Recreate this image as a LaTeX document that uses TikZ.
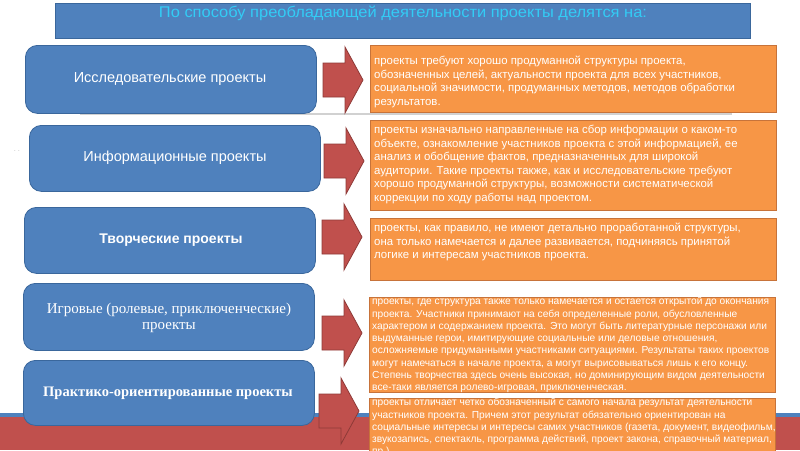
\documentclass[tikz,border=0pt]{standalone}
\usepackage{fontspec}
\setmainfont{Liberation Sans}
\newfontfamily\serifrm{Liberation Serif}
\usepackage{graphicx}
\definecolor{bluebox}{HTML}{4F81BD}
\definecolor{blueedge}{HTML}{3A679C}
\definecolor{orangebox}{HTML}{F79646}
\definecolor{orangeedge}{HTML}{C7733A}
\definecolor{redarrow}{HTML}{C0504D}
\definecolor{rededge}{HTML}{8E3A37}
\definecolor{titlecyan}{HTML}{33CCF5}
\tikzset{
  titlebox/.style={draw=blueedge, fill=bluebox, line width=0.8pt, minimum width=695pt, minimum height=35pt, anchor=north west, inner sep=0pt},
  bluebtn/.style={draw=blueedge, fill=bluebox, line width=0.8pt, rounded corners=12pt, minimum width=291pt, minimum height=66pt, anchor=north west, inner sep=0pt},
  btntext/.style={text=white, align=center, inner sep=0pt},
  obox/.style={draw=orangeedge, fill=orangebox, line width=0.8pt, minimum width=406pt, anchor=north west, inner sep=0pt},
  otext/.style={text=white, align=left, anchor=north west, inner sep=0pt, font=\fontsize{11.4}{13.5}\selectfont},
  osmall/.style={text=white, align=left, anchor=north west, inner sep=0pt, font=\fontsize{10.2}{12.3}\selectfont},
  arrowfill/.style={draw=rededge, fill=redarrow, line width=0.8pt, line join=miter},
  barrow/.pic={\path[arrowfill] (0,-17) -- (22,-17) -- (22,-33) -- (40,0) -- (22,33) -- (22,17) -- (0,17) -- cycle;}
}
\begin{document}
\begin{tikzpicture}[x=1pt,y=-1pt]
\useasboundingbox (0,0) rectangle (800,450);
\clip (0,0) rectangle (800,450);
% background band
\fill[redarrow] (0,416) rectangle (800,450);
\fill[bluebox] (0,413) rectangle (800,416.5);
% shadow line
\draw[black!18, line width=1.5pt] (80,114) -- (732,114);
% title
\node[titlebox] (title) at (55,3) {};
\node[text=titlecyan, inner sep=0pt] (titletext) at (403,13) {\resizebox{488pt}{\height}{\fontsize{15.5}{16}\selectfont По способу преобладающей деятельности проекты делятся на:}};
% small dots
\node[text=black!40, inner sep=0pt, font=\fontsize{6}{6}\selectfont] (dots) at (17,151) {. .};
% blue buttons
\node[bluebtn, minimum height=68pt] (b1) at (25,45) {};
\node[bluebtn] (b2) at (29,125) {};
\node[bluebtn] (b3) at (24,207) {};
\node[bluebtn, minimum height=67pt] (b4) at (23,283) {};
\node[bluebtn, minimum height=65pt] (b5) at (23,360) {};
\node[btntext, font=\fontsize{14.5}{16}\selectfont] (l1) at (170,79) {Исследовательские проекты};
\node[btntext, font=\fontsize{14.5}{16}\selectfont] (l2) at (175,158) {Информационные проекты};
\node[btntext, font=\bfseries\fontsize{14}{16}\selectfont] (l3) at (171,240) {Творческие проекты};
\node[btntext, font=\serifrm\fontsize{15}{16.5}\selectfont] (l4) at (169,318) {Игровые (ролевые, приключенческие)\\проекты};
\node[btntext, font=\serifrm\bfseries\fontsize{14.5}{16}\selectfont] (l5) at (168,393) {Практико-ориентированные проекты};
% arrows
\pic at (323,80) {barrow};
\pic at (324,161) {barrow};
\pic at (322,237) {barrow};
\pic at (322,333) {barrow};
\pic at (319,411) {barrow};
% orange boxes
\node[obox, minimum height=67pt] (o1) at (370,45) {};
\node[obox, minimum height=90pt] (o2) at (370,120) {};
\node[obox, minimum height=62pt] (o3) at (370,218) {};
\node[obox, minimum height=95pt] (o4) at (369,297) {};
\node[obox, minimum height=70pt] (o5) at (369,398) {};
\node[otext] (t1) at (374,56) {проекты требуют хорошо продуманной структуры проекта,\\обозначенных целей, актуальности проекта для всех участников,\\социальной значимости, продуманных методов, методов обработки\\результатов.};
\node[otext] (t2) at (374,125) {проекты изначально направленные на сбор информации о каком-то\\объекте, ознакомление участников проекта с этой информацией, ее\\анализ и обобщение фактов, предназначенных для широкой\\аудитории. Такие проекты также, как и исследовательские требуют\\хорошо продуманной структуры, возможности систематической\\коррекции по ходу работы над проектом.};
\node[otext] (t3) at (374,223) {проекты, как правило, не имеют детально проработанной структуры,\\она только намечается и далее развивается, подчиняясь принятой\\логике и интересам участников проекта.};
\node[osmall] (t4) at (372,297) {проекты, где структура также только намечается и остается открытой до окончания\\проекта. Участники принимают на себя определенные роли, обусловленные\\характером и содержанием проекта. Это могут быть литературные персонажи или\\выдуманные герои, имитирующие социальные или деловые отношения,\\осложняемые придуманными участниками ситуациями. Результаты таких проектов\\могут намечаться в начале проекта, а могут вырисовываться лишь к его концу.\\Степень творчества здесь очень высокая, но доминирующим видом деятельности\\все-таки является ролево-игровая, приключенческая.};
\node[osmall] (t5) at (372,398) {проекты отличает четко обозначенный с самого начала результат деятельности\\участников проекта. Причем этот результат обязательно ориентирован на\\социальные интересы и интересы самих участников (газета, документ, видеофильм,\\звукозапись, спектакль, программа действий, проект закона, справочный материал,\\пр.)};
\end{tikzpicture}
\end{document}
